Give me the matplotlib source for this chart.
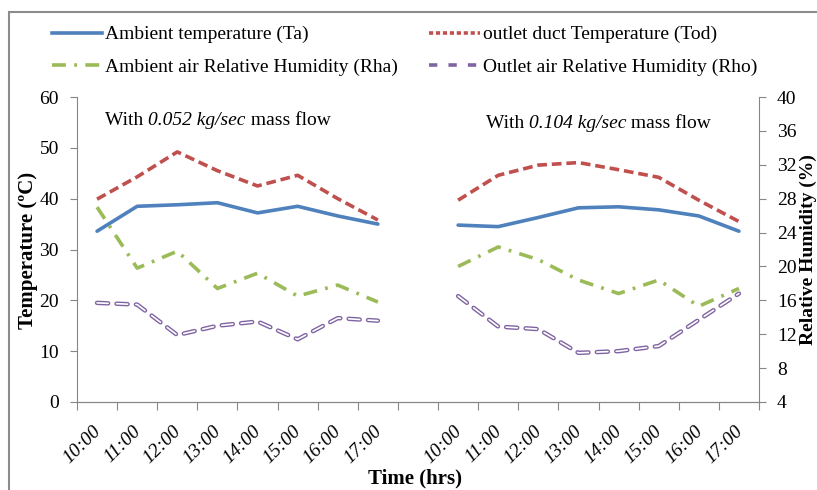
import numpy as np
import matplotlib
matplotlib.use('Agg')
import matplotlib.pyplot as plt
import matplotlib.transforms as mtransforms
from matplotlib.lines import Line2D
from matplotlib.patches import Rectangle

plt.rcParams['font.family'] = 'Liberation Serif'
plt.rcParams['lines.scale_dashes'] = False

# 数据 (左: 0.052 kg/sec, 右: 0.104 kg/sec)
hours = ['10:00', '11:00', '12:00', '13:00', '14:00', '15:00', '16:00', '17:00']
ta_1 = [33.6, 38.5, 38.8, 39.2, 37.2, 38.5, 36.6, 35.0]
tod_1 = [39.9, 44.3, 49.2, 45.5, 42.5, 44.6, 40.0, 35.8]
rha_1 = [27.0, 19.8, 21.8, 17.4, 19.2, 16.5, 17.8, 15.8]
rho_1 = [15.7, 15.5, 11.9, 13.0, 13.5, 11.4, 13.9, 13.6]

ta_2 = [34.8, 34.5, 36.3, 38.2, 38.4, 37.8, 36.6, 33.6]
tod_2 = [39.7, 44.6, 46.6, 47.1, 45.7, 44.2, 39.7, 35.5]
rha_2 = [20.0, 22.3, 20.8, 18.4, 16.8, 18.4, 15.3, 17.4]
rho_2 = [16.5, 12.9, 12.6, 9.8, 10.0, 10.6, 13.7, 16.8]

labels = hours + [''] + hours
flows = ['0.052 kg/sec', '0.104 kg/sec']

c_blue = '#4F81BD'
c_red = '#C0504D'
c_green = '#9BBB59'
c_purple = '#8064A2'

x1 = np.arange(8)
x2 = np.arange(9, 17)

fig = plt.figure(figsize=(8.17, 4.9), dpi=100)
ax = fig.add_axes([77/817, 1-402/490, (759-77)/817, (402-97)/490])
ax2 = ax.twinx()

for xs, ta, tod in [(x1, ta_1, tod_1), (x2, ta_2, tod_2)]:
    ax.plot(xs, ta, color=c_blue, lw=2.6, solid_capstyle='round')
    ax.plot(xs, tod, color=c_red, lw=2.6, dashes=(7, 3.5))

for xs, rha, rho in [(x1, rha_1, rho_1), (x2, rha_2, rho_2)]:
    ax2.plot(xs, rha, color=c_green, lw=2.6, dashes=(10, 6, 2, 6))
    ax2.plot(xs, rho, color=c_purple, lw=3.2, dashes=(8, 6), dash_capstyle='round')
    ax2.plot(xs, rho, color='white', lw=1.2, dashes=(8, 6), dash_capstyle='round')

ax.set_xlim(-0.5, 16.5)
ax.set_ylim(0, 60)
ax2.set_ylim(4, 40)
ax.set_yticks(range(0, 61, 10))
ax2.set_yticks(range(4, 41, 4))

gray = '#868686'
for a in (ax, ax2):
    a.spines['top'].set_visible(False)
    for s in ('left', 'right', 'bottom'):
        a.spines[s].set_color(gray)
    a.tick_params(axis='y', colors=gray, labelcolor='black', labelsize=14, length=5, pad=8)
ax.spines['right'].set_visible(False)
ax2.spines['left'].set_visible(False)

ax.set_xticks(np.arange(-0.5, 17, 1))
ax.set_xticklabels([])
ax.tick_params(axis='x', which='major', colors=gray, length=6)
ax.set_xticks(np.arange(17), minor=True)
ax.set_xticklabels(labels, minor=True, rotation=45, ha='right', va='top',
                   rotation_mode='anchor', fontsize=14, style='italic')
ax.tick_params(axis='x', which='minor', length=0, pad=15)
offset = mtransforms.ScaledTranslation(-5/100, 0, fig.dpi_scale_trans)
for lab in ax.get_xticklabels(minor=True):
    lab.set_transform(lab.get_transform() + offset)

fig.text(28/817, 1-250/490, 'Temperature (ºC)', rotation=90, ha='center', va='center',
         fontsize=15, fontweight='bold')
fig.text(808/817, 1-250/490, 'Relative Humidity (%)', rotation=90, ha='center', va='center',
         fontsize=14, fontweight='bold')
fig.text(415/817, 1-478/490, 'Time (hrs)', ha='center', va='center',
         fontsize=15, fontweight='bold')

# "With <italic> mass flow" drawn in three pieces
renderer = fig.canvas.get_renderer()
for (px, py), flow in zip([(105, 120), (486, 123)], flows):
    t = fig.text(px/817, 1-py/490, 'With ', ha='left', va='center', fontsize=14)
    x_end = t.get_window_extent(renderer).x1
    t2 = fig.text(x_end/817, 1-py/490, flow, ha='left', va='center', fontsize=14, style='italic')
    x_end = t2.get_window_extent(renderer).x1
    fig.text(x_end/817, 1-py/490, ' mass flow', ha='left', va='center', fontsize=14)

handles = [
    Line2D([], [], color=c_blue, lw=2.6),
    Line2D([], [], color=c_green, lw=2.6, dashes=(10, 6, 2, 6)),
    Line2D([], [], color=c_red, lw=2.6, dashes=(3, 2)),
    Line2D([], [], color=c_purple, lw=2.6, dashes=(6, 8)),
]
names = ['Ambient temperature (Ta)', 'Ambient air Relative Humidity (Rha)',
         'outlet duct Temperature (Tod)', 'Outlet air Relative Humidity (Rho)']
fig.legend(handles, names, ncol=2, loc='upper left', bbox_to_anchor=(42/817, 1-16/490),
           frameon=False, fontsize=14, handlelength=2.6, handletextpad=0.15,
           columnspacing=1.6, labelspacing=0.75, borderpad=0)

fig.patches.append(Rectangle((9/817, -0.1), 1.2, 1 - 12/490 + 0.1, transform=fig.transFigure,
                             fill=False, edgecolor='#8c8c8c', lw=1.5))

fig.savefig('out.png', dpi=100)
